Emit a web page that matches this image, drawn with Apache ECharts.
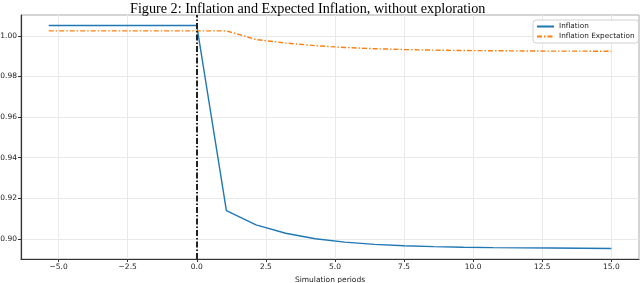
<!DOCTYPE html>
<html>
<head>
<meta charset="utf-8">
<script src="https://cdn.jsdelivr.net/npm/echarts@6/dist/echarts.min.js"></script>
<style>html,body{margin:0;padding:0;background:#fff}#c{width:640px;height:283px}</style>
</head>
<body>
<div id="c"></div>
<script>
// simulation period index k -> x = k*15/14
const periodIndex = [-5,-4,-3,-2,-1,0,1,2,3,4,5,6,7,8,9,10,11,12,13,14];
const inflation = [1.0051,1.0051,1.0051,1.0051,1.0051,1.0051,0.9139,0.9069,0.9028,0.9001,0.8984,0.8973,0.8966,0.8962,0.8959,0.8957,0.8956,0.8955,0.8954,0.8953];
const expectation = [1.0025,1.0025,1.0025,1.0025,1.0025,1.0025,1.0025,0.9982,0.9965,0.9952,0.9943,0.9937,0.9933,0.9930,0.9928,0.9927,0.9926,0.9925,0.9925,0.9924];
const xTicks = [-5,-2.5,0,2.5,5,7.5,10,12.5,15];
const yTicks = [0.90,0.92,0.94,0.96,0.98,1.00];
const shockAt = 0;

const xs = periodIndex.map(k => k*15/14);
const infData = xs.map((x,i)=>[x, inflation[i]]);
const expData = xs.map((x,i)=>[x, expectation[i]]);
const minus = s => s.replace('-', '\u2212');

const font = 'DejaVu Sans';
const gridLines = [].concat(
  xTicks.map(v => ({xAxis: v})),
  yTicks.map(v => ({yAxis: v}))
);

const chart = echarts.init(document.getElementById('c'), null, {renderer:'canvas'});
chart.setOption({
  animation: false,
  title: {
    text: 'Figure 2: Inflation and Expected Inflation, without exploration',
    left: 125, top: -3,
    textStyle: {fontFamily: 'Liberation Serif', fontSize: 14.2, fontWeight: 'normal', color: '#000'}
  },
  legend: {
    orient: 'vertical', left: 533, top: 20,
    padding: [3, 4, 3, 3], itemGap: 3, itemWidth: 17, itemHeight: 8,
    backgroundColor: '#fff', borderColor: '#d0d0d0', borderWidth: 1, borderRadius: 3,
    itemStyle: {opacity: 0},
    textStyle: {fontFamily: font, fontSize: 7.3, color: '#222'},
    data: ['Inflation', 'Inflation Expectation']
  },
  grid: {left: 21, right: 1, top: 15, bottom: 24, show: true, borderColor: '#aaa', borderWidth: 1,
    outerBoundsMode: 'none', containLabel: false},
  xAxis: {
    type: 'value', min: -6.36, max: 16.0,
    name: 'Simulation periods', nameLocation: 'middle', nameGap: 15,
    nameTextStyle: {fontFamily: font, fontSize: 7.5, color: '#222'},
    axisLine: {show: true, onZero: false, lineStyle: {color: '#333', width: 1.2}},
    axisTick: {show: true, customValues: xTicks, length: 3, lineStyle: {color: '#333'}},
    axisLabel: {customValues: xTicks, margin: 4, fontFamily: font, fontSize: 7.5, color: '#222',
      formatter: v => minus(v.toFixed(1))},
    splitLine: {show: false}
  },
  yAxis: {
    type: 'value', min: 0.8901, max: 1.0103,
    axisLine: {show: true, onZero: false, lineStyle: {color: '#333', width: 1.2}},
    axisTick: {show: true, customValues: yTicks, length: 3, lineStyle: {color: '#333'}},
    axisLabel: {customValues: yTicks, margin: 4, fontFamily: font, fontSize: 7.5, color: '#222',
      formatter: v => v.toFixed(2)},
    splitLine: {show: false}
  },
  series: [
    {
      name: 'grid', type: 'line', data: [], z: 0, silent: true,
      markLine: {
        z: 0, silent: true, symbol: ['none','none'], label: {show: false}, animation: false,
        lineStyle: {color: '#e9e9e9', width: 1, type: 'solid'},
        emphasis: {disabled: true},
        data: gridLines
      }
    },
    {
      name: 'Inflation', type: 'line', data: infData, showSymbol: false, symbol: 'none', z: 3,
      lineStyle: {color: '#1f77b4', width: 1.4}, itemStyle: {color: '#1f77b4'},
      markLine: {
        z: 4, silent: true, symbol: ['none','none'], label: {show: false},
        lineStyle: {color: '#222', width: 2, type: [6, 2, 1.5, 2]},
        emphasis: {disabled: true},
        data: [{xAxis: shockAt}]
      }
    },
    {
      name: 'Inflation Expectation', type: 'line', data: expData, showSymbol: false, symbol: 'none', z: 3,
      lineStyle: {color: '#ff7f0e', width: 1.4, type: [5, 2, 1.5, 2]}, itemStyle: {color: '#ff7f0e'}
    }
  ]
});
</script>
</body>
</html>
